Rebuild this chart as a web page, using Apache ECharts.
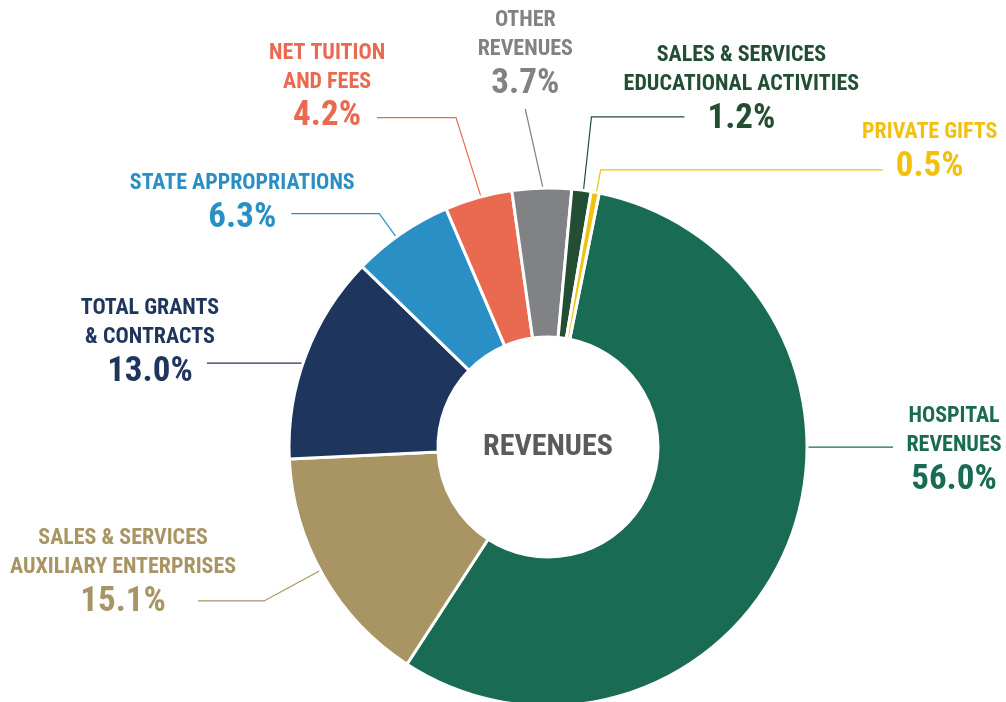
<!DOCTYPE html>
<html>
<head>
<meta charset="utf-8">
<title>Revenues</title>
<script src="https://cdn.jsdelivr.net/npm/echarts@6/dist/echarts.min.js"></script>
<style>
  html, body { margin: 0; padding: 0; background: #ffffff; }
  #chart { width: 1006px; height: 702px; }
</style>
</head>
<body>
<div id="chart"></div>
<script>
// Revenue categories (label lines split with \n) and their share of total revenues, in %
const categories = [
  'HOSPITAL\nREVENUES',
  'SALES & SERVICES\nAUXILIARY ENTERPRISES',
  'TOTAL GRANTS\n& CONTRACTS',
  'STATE APPROPRIATIONS',
  'NET TUITION\nAND FEES',
  'OTHER\nREVENUES',
  'SALES & SERVICES\nEDUCATIONAL ACTIVITIES',
  'PRIVATE GIFTS'
];
const shares = [56.0, 15.1, 13.0, 6.3, 4.2, 3.7, 1.2, 0.5];
const centerTitle = 'REVENUES';

// Slice colours
const colors = ['#1a6b53', '#a99563', '#1e355e', '#2a8fc4', '#e96a50', '#808285', '#234e34', '#f2c10f'];

// Donut geometry
const CX = 548, CY = 447, R_IN = 110, R_OUT = 259;
const START_CW = 11.4;               // first slice begins this many degrees clockwise from 12 o'clock
const START_ANGLE = 90 - START_CW;   // ECharts convention (counter-clockwise from 3 o'clock)

// Leader-line layout per slice: where on the slice edge the line attaches (fraction of the arc),
// length and tilt (deg, relative to the radial direction) of the first segment, signed length of
// the horizontal segment, and the label-block offset from the line end.
const leader = [
  { frac: 0.39,  radial: 0,  tilt: 0,     horiz: 86,  dx: 61,  dy: 4 },
  { frac: 0.525, radial: 64, tilt: 0,     horiz: -66, dx: -75, dy: -28 },
  { frac: 0.46,  radial: 0,  tilt: 0,     horiz: -96, dx: -57, dy: -20 },
  { frac: 0.44,  radial: 29, tilt: 0,     horiz: -88, dx: -49, dy: -10 },
  { frac: 0.54,  radial: 83, tilt: -2.5,  horiz: -79, dx: -50, dy: -30 },
  { frac: 0.52,  radial: 81, tilt: -11.5, horiz: 0,   dx: 0,   dy: -54 },
  { frac: 0.60,  radial: 74, tilt: -1.7,  horiz: 93,  dx: 57,  dy: -27 },
  { frac: 0.65,  radial: 23, tilt: 0,     horiz: 282, dx: 47,  dy: -17 }
];

const total = shares.reduce((a, b) => a + b, 0);
const sliceStart = [];
shares.reduce((acc, v, i) => { sliceStart[i] = acc; return acc + v; }, 0);

function leaderPoints(i) {
  const L = leader[i];
  const a0 = START_CW + 360 * sliceStart[i] / total;
  const span = 360 * shares[i] / total;
  const deg = a0 + L.frac * span;
  const th = deg * Math.PI / 180;
  const td = (deg + L.tilt) * Math.PI / 180;
  const p0 = [CX + R_OUT * Math.sin(th), CY - R_OUT * Math.cos(th)];
  const p1 = [p0[0] + L.radial * Math.sin(td), p0[1] - L.radial * Math.cos(td)];
  const p2 = [p1[0] + L.horiz, p1[1]];
  return [p0, p1, p2];
}

const FONT = '"Roboto Condensed", "Open Sans Condensed", "DejaVu Sans Condensed", sans-serif';

const chart = echarts.init(document.getElementById('chart'), null, { renderer: 'canvas' });

chart.setOption({
  backgroundColor: '#ffffff',
  animation: false,
  graphic: [{
    type: 'text',
    x: CX, y: CY,
    style: {
      text: centerTitle,
      fill: '#5b5b5c',
      font: 'bold 30px ' + FONT,
      align: 'center',
      verticalAlign: 'middle'
    }
  }],
  series: [{
    type: 'pie',
    center: [CX, CY],
    radius: [R_IN, R_OUT],
    startAngle: START_ANGLE,
    clockwise: true,
    avoidLabelOverlap: false,
    itemStyle: { borderColor: '#ffffff', borderWidth: 3 },
    emphasis: { disabled: true },
    label: {
      show: true,
      position: 'outside',
      fontFamily: FONT,
      formatter: p => '{n|' + p.name + '}\n{p|' + p.value.toFixed(1) + '%}',
      rich: {
        n: { fontFamily: FONT, fontWeight: 'bold', fontSize: 22, lineHeight: 29, align: 'center' },
        p: { fontFamily: FONT, fontWeight: 'bold', fontSize: 35, lineHeight: 40, align: 'center' }
      }
    },
    labelLine: { show: true, length: 10, length2: 10, smooth: false, lineStyle: { width: 1.2 } },
    labelLayout: params => {
      const i = params.dataIndex;
      const pts = leaderPoints(i);
      const end = pts[2];
      return {
        x: end[0] + leader[i].dx,
        y: end[1] + leader[i].dy,
        align: 'center',
        verticalAlign: 'middle',
        labelLinePoints: pts
      };
    },
    data: categories.map((name, i) => ({
      name: name,
      value: shares[i],
      itemStyle: { color: colors[i] },
      label: { color: colors[i] },
      labelLine: { lineStyle: { color: colors[i] } }
    }))
  }]
});
</script>
</body>
</html>
